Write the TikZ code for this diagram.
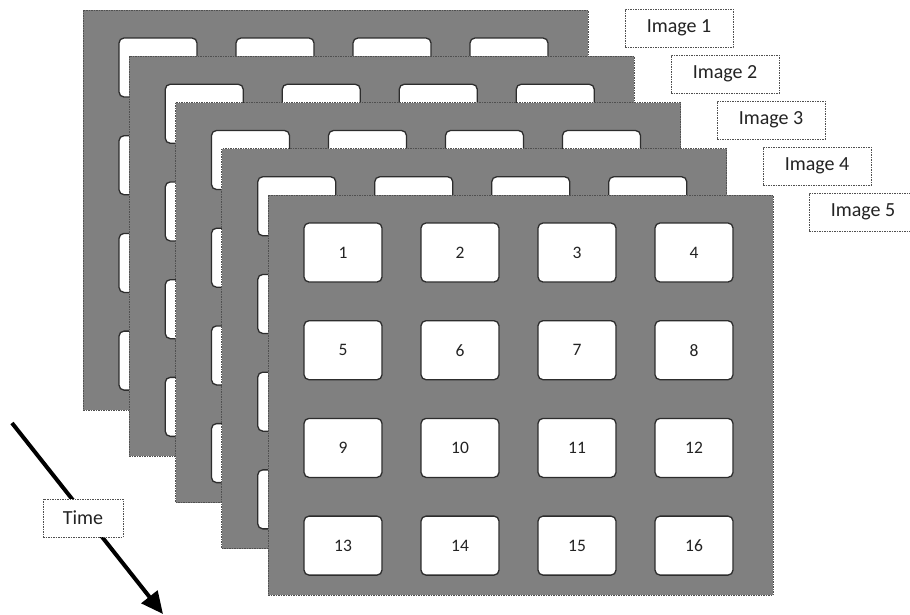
\documentclass[tikz,border=0pt]{standalone}
\usepackage{fontspec}
\setmainfont{Carlito}
\usetikzlibrary{arrows.meta}
\definecolor{layergray}{RGB}{128,128,128}
\definecolor{layeredge}{RGB}{80,80,80}
\definecolor{celledge}{RGB}{45,45,45}
\definecolor{textgray}{RGB}{35,35,35}
\begin{document}
\begin{tikzpicture}[x=1pt,y=-1pt,
  layerbox/.style={draw=layeredge,fill=layergray,line width=0.9pt,dash pattern=on 1.5pt off 1pt,
    minimum width=505pt,minimum height=400pt,inner sep=0pt,outer sep=0pt,anchor=north west},
  cellbox/.style={draw=celledge,fill=white,line width=1.3pt,rounded corners=5pt,
    minimum width=78pt,minimum height=59pt,inner sep=0pt,outer sep=0pt,anchor=north west,
    text=textgray,font=\fontsize{17.5}{20}\selectfont},
  tagbox/.style={draw=layeredge,fill=white,line width=0.9pt,dash pattern=on 1.5pt off 1pt,
    minimum width=108pt,minimum height=38pt,inner sep=0pt,text=textgray,
    font=\fontsize{20}{23}\selectfont},
  timebox/.style={tagbox,minimum width=80pt},
  timearrow/.style={line width=4pt,-{Triangle[length=22pt,width=20pt]}}
]
\useasboundingbox (0,0) rectangle (910,614);
\foreach \k in {0,...,4}{
  \pgfmathsetmacro{\lx}{83+46.25*\k}
  \pgfmathsetmacro{\ly}{10+46.25*\k}
  \node[layerbox] (L\k) at (\lx,\ly) {};
  \foreach \j in {0,...,3}{
    \foreach \i in {0,...,3}{
      \pgfmathtruncatemacro{\num}{4*\j+\i+1}
      \pgfmathsetmacro{\cx}{\lx+36+117*\i}
      \pgfmathsetmacro{\cy}{\ly+28+97.7*\j}
      \ifnum\k=4
        \node[cellbox] (c\num) at (\cx,\cy) {\num};
      \else
        \node[cellbox] (L\k c\num) at (\cx,\cy) {};
      \fi
    }
  }
}
\foreach \k in {1,...,5}{
  \node[tagbox] (img\k) at ({679+46*(\k-1)},{28+46*(\k-1)}) {Image \k};
}
\coordinate (ts) at (12,423);
\coordinate (te) at (163,614);
\draw[timearrow] (ts) -- (te);
\node[timebox] (time) at (83,518) {Time};
\end{tikzpicture}
\end{document}
